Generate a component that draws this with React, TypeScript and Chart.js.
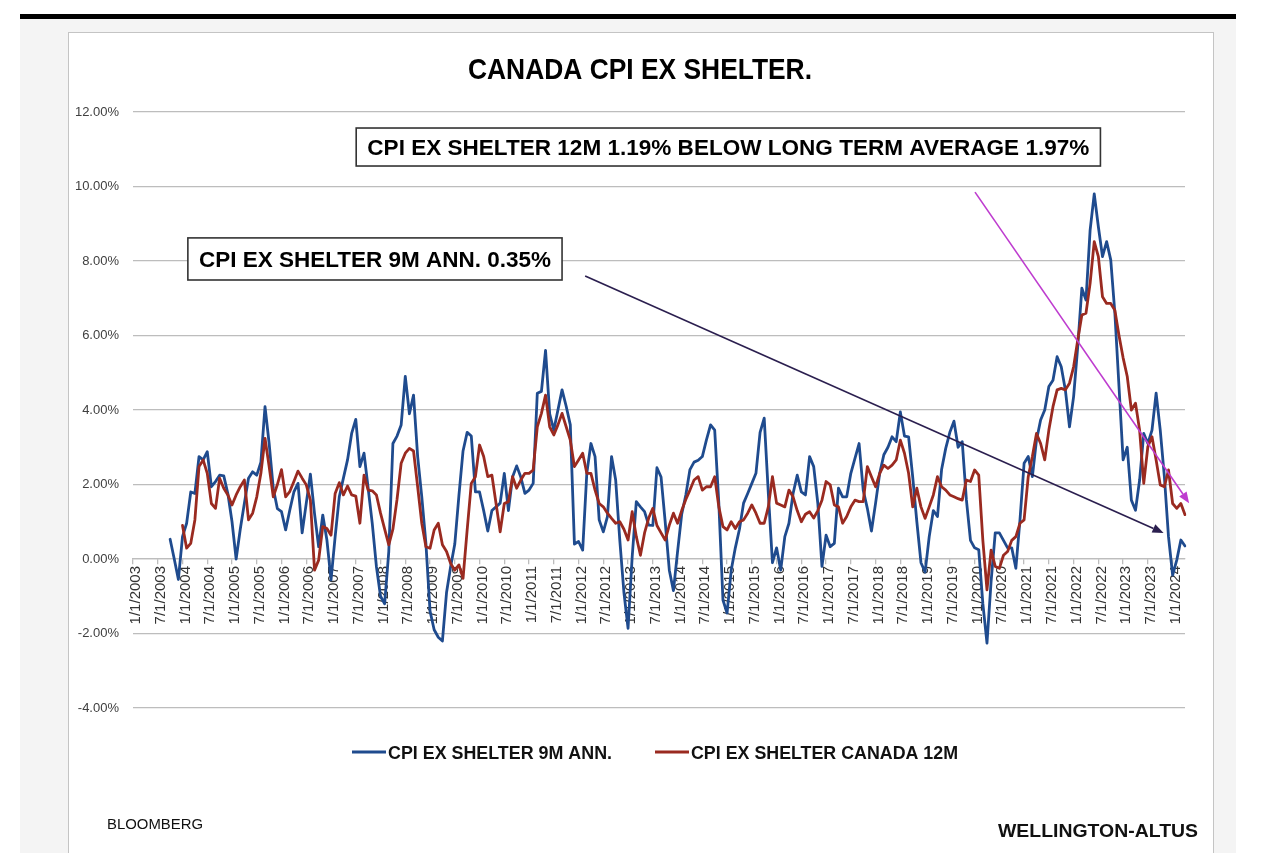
import React, { useEffect, useRef } from 'react';
import { Chart, registerables } from 'chart.js';

Chart.register(...registerables);

// ---------- DATA ----------
const START_YEAR = 2003;
const MONTH_COUNT = 256; // 1/1/2003 .. 4/1/2024
const categories: string[] = [];
for (let i = 0; i < MONTH_COUNT; i++) {
  categories.push(`${(i % 12) + 1}/1/${START_YEAR + Math.floor(i / 12)}`);
}

const yTickValues = [-4, -2, 0, 2, 4, 6, 8, 10, 12];

// CPI EX SHELTER 9M ANN. (monthly, %)
const cpi9mAnn: (number | null)[] = [
  null, null, null, null, null, null, null, null, null, 0.53, 0.0, -0.55, // 2003
  0.6, 0.96, 1.8, 1.76, 2.75, 2.66, 2.88, 1.94, 2.08, 2.25, 2.23, 1.75, // 2004
  1.0, 0.0, 0.8, 1.5, 2.17, 2.34, 2.25, 2.6, 4.09, 3.1, 1.9, 1.35, // 2005
  1.27, 0.78, 1.31, 1.8, 2.03, 0.7, 1.5, 2.28, 1.22, 0.33, 1.18, 0.51, // 2006
  -0.56, 0.6, 1.67, 2.17, 2.66, 3.37, 3.75, 2.48, 2.84, 1.9, 0.95, -0.2, // 2007
  -1.0, -1.2, 0.2, 3.1, 3.3, 3.6, 4.9, 3.9, 4.4, 2.75, 1.67, 0.42, // 2008
  -1.4, -1.9, -2.1, -2.2, -0.9, -0.2, 0.4, 1.7, 2.9, 3.4, 3.3, 1.8, // 2009
  1.8, 1.3, 0.75, 1.3, 1.4, 1.5, 2.3, 1.3, 2.2, 2.5, 2.2, 1.76, // 2010
  1.85, 2.03, 4.45, 4.5, 5.6, 3.9, 3.46, 4.0, 4.54, 4.1, 3.6, 0.4, // 2011
  0.47, 0.24, 2.3, 3.1, 2.75, 1.05, 0.73, 1.14, 2.75, 2.12, 0.5, -0.9, // 2012
  -1.86, 0.06, 1.54, 1.4, 1.27, 0.91, 0.9, 2.45, 2.2, 1.0, -0.3, -0.85, // 2013
  0.2, 1.2, 1.72, 2.4, 2.6, 2.65, 2.75, 3.2, 3.6, 3.46, 1.5, -1.1, // 2014
  -1.45, -0.3, 0.3, 0.8, 1.5, 1.76, 2.03, 2.3, 3.4, 3.78, 1.76, -0.1, // 2015
  0.3, -0.3, 0.6, 0.96, 1.76, 2.25, 1.8, 1.72, 2.75, 2.48, 1.49, -0.2, // 2016
  0.64, 0.33, 0.42, 1.9, 1.67, 1.67, 2.3, 2.7, 3.1, 1.85, 1.36, 0.75, // 2017
  1.5, 2.3, 2.8, 3.0, 3.28, 3.15, 3.95, 3.3, 3.28, 2.2, 1.0, -0.1, // 2018
  -0.35, 0.6, 1.3, 1.14, 2.4, 2.97, 3.4, 3.7, 3.0, 3.15, 1.6, 0.5, // 2019
  0.3, 0.25, -1.2, -2.26, -0.6, 0.7, 0.7, 0.5, 0.3, 0.3, -0.25, 1.05, // 2020
  2.57, 2.75, 2.21, 3.19, 3.73, 4.0, 4.63, 4.8, 5.43, 5.16, 4.54, 3.55, // 2021
  4.36, 5.7, 7.27, 6.95, 8.83, 9.8, 8.92, 8.12, 8.52, 8.03, 6.6, 4.63, // 2022
  2.66, 3.0, 1.58, 1.31, 2.12, 3.37, 3.1, 3.46, 4.45, 3.46, 2.21, 0.6, // 2023
  -0.43, -0.03, 0.51, 0.35, // 2024
];

// CPI EX SHELTER CANADA 12M (monthly, %)
const cpi12m: (number | null)[] = [
  null, null, null, null, null, null, null, null, null, null, null, null, // 2003
  0.9, 0.29, 0.42, 1.05, 2.48, 2.66, 2.3, 1.49, 1.36, 2.17, 1.9, 1.72, // 2004
  1.45, 1.72, 1.94, 2.12, 1.05, 1.23, 1.67, 2.3, 3.24, 2.48, 1.67, 2.0, // 2005
  2.4, 1.67, 1.81, 2.08, 2.36, 2.17, 1.99, 1.58, -0.3, -0.03, 0.87, 0.82, // 2006
  0.64, 1.76, 2.05, 1.72, 1.96, 1.72, 1.69, 0.96, 2.25, 1.85, 1.83, 1.72, // 2007
  1.23, 0.8, 0.38, 0.8, 1.6, 2.57, 2.84, 2.97, 2.9, 1.94, 0.96, 0.33, // 2008
  0.29, 0.78, 0.96, 0.38, 0.2, -0.12, -0.3, -0.16, -0.52, 0.78, 2.03, 2.21, // 2009
  3.06, 2.75, 2.21, 2.25, 1.49, 0.73, 1.49, 1.54, 2.21, 1.9, 2.12, 2.3, // 2010
  2.3, 2.39, 3.55, 3.91, 4.4, 3.55, 3.33, 3.6, 3.91, 3.55, 3.19, 2.48, // 2011
  2.66, 2.84, 2.3, 2.3, 1.85, 1.49, 1.4, 1.23, 1.09, 0.96, 1.0, 0.8, // 2012
  0.51, 1.27, 0.6, 0.1, 0.7, 1.1, 1.36, 0.9, 0.7, 0.51, 0.91, 1.23, // 2013
  0.96, 1.3, 1.6, 1.85, 2.12, 2.21, 1.85, 1.94, 1.94, 2.21, 1.4, 0.87, // 2014
  0.78, 1.0, 0.82, 1.0, 1.05, 1.23, 1.45, 1.23, 0.96, 0.96, 1.4, 2.21, // 2015
  1.5, 1.45, 1.4, 1.85, 1.67, 1.3, 1.0, 1.2, 1.27, 1.1, 1.3, 1.58, // 2016
  2.08, 1.99, 1.45, 1.4, 0.96, 1.14, 1.4, 1.58, 1.54, 1.54, 2.48, 2.21, // 2017
  1.94, 2.3, 2.52, 2.43, 2.52, 2.66, 3.19, 2.84, 2.3, 1.4, 1.9, 1.4, // 2018
  1.09, 1.4, 1.72, 2.21, 1.94, 1.85, 1.72, 1.67, 1.62, 1.58, 2.12, 2.08, // 2019
  2.39, 2.25, 0.5, -0.83, 0.24, -0.2, -0.25, 0.1, 0.2, 0.5, 0.6, 0.96, // 2020
  1.05, 2.21, 2.75, 3.37, 3.1, 2.66, 3.46, 4.09, 4.54, 4.58, 4.54, 4.72, // 2021
  5.16, 5.88, 6.55, 6.6, 7.4, 8.52, 8.12, 7.04, 6.86, 6.86, 6.68, 6.0, // 2022
  5.4, 4.9, 4.0, 4.18, 3.46, 2.03, 3.02, 3.28, 2.66, 1.99, 1.94, 2.39, // 2023
  1.49, 1.36, 1.49, 1.19, // 2024
];

const seriesNames = ['CPI EX SHELTER 9M ANN.', 'CPI EX SHELTER CANADA 12M'];
const chartTitle = 'CANADA CPI EX SHELTER.';
const note12m = 'CPI EX SHELTER 12M 1.19% BELOW LONG TERM AVERAGE 1.97%';
const note9m = 'CPI EX SHELTER 9M ANN. 0.35%';
const sourceLeft = 'BLOOMBERG';
const sourceRight = 'WELLINGTON-ALTUS';

// ---------- STYLE ----------
const BLUE = '#1f4b8e';
const RED = '#9a2a20';
const GRID = '#bdbdbd';
const AXIS_TEXT = '#404040';
const NARROW = "'Liberation Sans Narrow', 'Liberation Sans', Arial, sans-serif";
const SANS = "'Liberation Sans', Arial, sans-serif";

// draw text squeezed/stretched to a target width
function fitText(
  ctx: CanvasRenderingContext2D,
  text: string,
  left: number,
  baseline: number,
  width: number,
  font: string,
  color: string
) {
  ctx.save();
  ctx.font = font;
  ctx.textAlign = 'left';
  ctx.textBaseline = 'alphabetic';
  const w = ctx.measureText(text).width;
  ctx.translate(left, baseline);
  ctx.scale(width / w, 1);
  ctx.fillStyle = color;
  ctx.fillText(text, 0, 0);
  ctx.restore();
}

function drawArrow(
  ctx: CanvasRenderingContext2D,
  x1: number, y1: number, x2: number, y2: number,
  color: string, lw: number
) {
  const ang = Math.atan2(y2 - y1, x2 - x1);
  const head = 11;
  const half = 4.5;
  const bx = x2 - head * Math.cos(ang);
  const by = y2 - head * Math.sin(ang);
  ctx.save();
  ctx.strokeStyle = color;
  ctx.fillStyle = color;
  ctx.lineWidth = lw;
  ctx.beginPath();
  ctx.moveTo(x1, y1);
  ctx.lineTo(bx, by);
  ctx.stroke();
  ctx.beginPath();
  ctx.moveTo(x2, y2);
  ctx.lineTo(bx + half * Math.sin(ang), by - half * Math.cos(ang));
  ctx.lineTo(bx - half * Math.sin(ang), by + half * Math.cos(ang));
  ctx.closePath();
  ctx.fill();
  ctx.restore();
}

const overlayPlugin = {
  id: 'overlay',
  afterDatasetsDraw(chart: any) {
    const { ctx } = chart;
    const xs = chart.scales.x;
    const ys = chart.scales.y;
    const px = (m: number) => xs.getPixelForValue(m);
    const py = (v: number) => ys.getPixelForValue(v);

    // arrows (month index, value)
    drawArrow(ctx, px(109.6), py(7.6), px(249.8), py(0.7), '#2b1f4f', 1.6);
    drawArrow(ctx, px(204.1), py(9.85), px(256.0), py(1.5), '#be3ccf', 1.6);

    // text boxes
    const boxes = [
      { text: note12m, m1: 54.1, m2: 234.5, v1: 11.57, v2: 10.55, tw: 722 },
      { text: note9m, m1: 13.3, m2: 104.0, v1: 8.62, v2: 7.49, tw: 352 },
    ];
    boxes.forEach((b) => {
      const l = px(b.m1), r = px(b.m2), t = py(b.v1), btm = py(b.v2);
      ctx.save();
      ctx.fillStyle = '#ffffff';
      ctx.fillRect(l, t, r - l, btm - t);
      ctx.strokeStyle = '#333333';
      ctx.lineWidth = 1.6;
      ctx.strokeRect(l, t, r - l, btm - t);
      ctx.restore();
      const fs = 22;
      const cy = (t + btm) / 2;
      fitText(ctx, b.text, (l + r) / 2 - b.tw / 2, cy + fs * 0.36, b.tw, `bold ${fs}px ${NARROW}`, '#000');
    });
  },
  afterDraw(chart: any) {
    const { ctx } = chart;
    // title
    fitText(ctx, chartTitle, 572 - 172, 47, 344, `bold 30px ${NARROW}`, '#000');
    // legend
    const ly = 720;
    const items = [
      { color: BLUE, x: 284, tx: 320, tw: 224, label: seriesNames[0] },
      { color: RED, x: 587, tx: 623, tw: 267, label: seriesNames[1] },
    ];
    items.forEach((it) => {
      ctx.save();
      ctx.strokeStyle = it.color;
      ctx.lineWidth = 3;
      ctx.beginPath();
      ctx.moveTo(it.x, ly);
      ctx.lineTo(it.x + 34, ly);
      ctx.stroke();
      ctx.restore();
      fitText(ctx, it.label, it.tx, ly + 6.5, it.tw, `bold 18px ${NARROW}`, '#111');
    });
    // sources
    fitText(ctx, sourceLeft, 39, 797, 96, `14px ${NARROW}`, '#111');
    fitText(ctx, sourceRight, 930, 805, 200, `bold 18px ${NARROW}`, '#111');
  },
};

export default function App() {
  const canvasRef = useRef<HTMLCanvasElement | null>(null);

  useEffect(() => {
    if (!canvasRef.current) return;
    const chart = new Chart(canvasRef.current, {
      type: 'line',
      data: {
        labels: categories,
        datasets: [
          {
            label: seriesNames[0],
            data: cpi9mAnn,
            borderColor: BLUE,
            backgroundColor: BLUE,
            borderWidth: 2.8,
            pointRadius: 0,
            tension: 0,
            fill: false,
            borderJoinStyle: 'round',
            borderCapStyle: 'round',
            order: 2,
          },
          {
            label: seriesNames[1],
            data: cpi12m,
            borderColor: RED,
            backgroundColor: RED,
            borderWidth: 2.8,
            pointRadius: 0,
            tension: 0,
            fill: false,
            borderJoinStyle: 'round',
            borderCapStyle: 'round',
            order: 1,
          },
        ],
      },
      options: {
        animation: false,
        responsive: true,
        maintainAspectRatio: false,
        layout: { padding: { left: 0, right: 28, top: 80, bottom: 145 } },
        plugins: {
          legend: { display: false },
          title: { display: false },
          tooltip: { enabled: false },
        },
        scales: {
          x: {
            type: 'category',
            position: { y: 0 } as any,
            offset: false,
            grid: {
              display: true,
              drawOnChartArea: false,
              drawTicks: true,
              tickLength: 5,
              lineWidth: 1.3,
              color: (c: any) => (c.index % 6 === 0 ? GRID : 'rgba(0,0,0,0)'),
            },
            border: { display: true, color: GRID, width: 1.3 },
            ticks: {
              autoSkip: false,
              minRotation: 90,
              maxRotation: 90,
              padding: 2,
              labelOffset: 3,
              color: '#333333',
              font: { family: SANS, size: 15 },
              callback: (_v: any, i: number) => (i % 6 === 0 ? categories[i] : ''),
            },
            afterFit: (s: any) => {
              s.height = 0;
            },
          },
          y: {
            min: -4,
            max: 12,
            afterBuildTicks: (s: any) => {
              s.ticks = yTickValues.map((v) => ({ value: v }));
            },
            afterFit: (s: any) => {
              s.width = 65;
            },
            grid: { color: GRID, lineWidth: 1.3, drawTicks: false },
            border: { display: false },
            ticks: {
              padding: 14,
              color: AXIS_TEXT,
              font: { family: SANS, size: 13 },
              callback: (v: any) => Number(v).toFixed(2) + '%',
            },
          },
        },
      },
      plugins: [overlayPlugin],
    });
    return () => chart.destroy();
  }, []);

  return (
    <div style={{ position: 'absolute', left: 0, top: 0, width: 1284, height: 853, overflow: 'hidden', background: '#fff' }}>
      <div style={{ position: 'absolute', left: 20, top: 14, width: 1216, height: 5, background: '#000' }} />
      <div style={{ position: 'absolute', left: 20, top: 19, width: 1216, height: 834, background: '#f4f4f4' }} />
      <div
        style={{
          position: 'absolute',
          left: 68,
          top: 32,
          width: 1146,
          height: 840,
          background: '#fff',
          border: '1px solid #c4c4c4',
          boxSizing: 'border-box',
        }}
      />
      <div style={{ position: 'absolute', left: 68, top: 32, width: 1145, height: 821 }}>
        <canvas ref={canvasRef} />
      </div>
    </div>
  );
}
